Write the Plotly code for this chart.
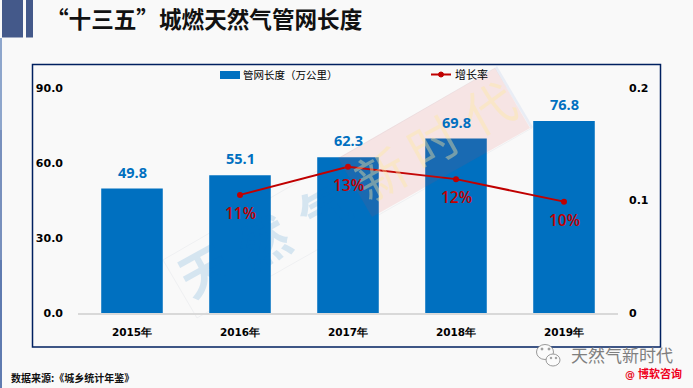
import plotly.graph_objects as go

years = ["2015年", "2016年", "2017年", "2018年", "2019年"]
length = [49.8, 55.1, 62.3, 69.8, 76.8]
rate_years = ["2016年", "2017年", "2018年", "2019年"]
rate = [0.105, 0.130, 0.119, 0.099]
rate_labels = ["11%", "13%", "12%", "10%"]
left_ticks = [0, 30, 60, 90]
left_tick_text = ["0.0", "30.0", "60.0", "90.0"]
right_ticks = [0, 0.1, 0.2]
right_tick_text = ["0", "0.1", "0.2"]

W, H = 693, 388
L, R, T, B = 78, 75, 88, 75
PW, PH = W - L - R, H - T - B
CJK = "Noto Sans CJK SC"
BLUE = "#0070c0"
RED = "#c00000"


def X(x):
    return (x - L) / PW


def Y(y):
    return (H - B - y) / PH


def rect(x0, y0, x1, y1, fill, line=None, layer="below", width=0):
    return dict(type="rect", xref="paper", yref="paper", x0=X(x0), x1=X(x1), y0=Y(y0), y1=Y(y1),
                fillcolor=fill, line=dict(color=line or fill, width=width), layer=layer)


def poly(pts, **kw):
    path = "M " + " L ".join(f"{X(a):.5f},{Y(b):.5f}" for a, b in pts) + " Z"
    return dict(type="path", xref="paper", yref="paper", path=path, **kw)


def ell(cx, cy, rx, ry, fill, line, layer="above"):
    return dict(type="circle", xref="paper", yref="paper", x0=X(cx - rx), x1=X(cx + rx),
                y0=Y(cy + ry), y1=Y(cy - ry), fillcolor=fill, line=dict(color=line, width=1), layer=layer)


def note(text, x, y, size, color, font=CJK, weight="normal", angle=0, opacity=1, anchor="left"):
    return dict(text=text, xref="paper", yref="paper", x=X(x), y=Y(y), xanchor=anchor, yanchor="middle",
                showarrow=False, textangle=angle, opacity=opacity,
                font=dict(family=font, size=size, color=color, weight=weight))


fig = go.Figure()
fig.add_trace(go.Bar(
    x=years, y=length, name="管网长度（万公里）", marker=dict(color=BLUE, line_width=0), width=0.57,
    showlegend=False,
))
fig.add_trace(go.Scatter(
    x=rate_years, y=rate, name="增长率", yaxis="y2", mode="lines+markers",
    line=dict(color=RED, width=2), marker=dict(color=RED, size=6), cliponaxis=False, showlegend=False,
))

shapes = [
    rect(0, 38, 2, 130, "#8ea6cc"),
    rect(0, 130, 2, 260, "#7890bd"),
    rect(0, 260, 2, 388, "#5f7bb0"),
    rect(2, 0, 23, 37.5, "#44598a"),
    rect(26, 0, 33, 37.5, "#44598a"),
    rect(32.5, 64.5, 660.5, 347, "rgba(0,0,0,0)", "#002060", width=1.5),
    poly([(163, 260), (495, 68), (532, 128), (197, 318)], fillcolor="rgba(0,0,0,0)",
         line=dict(color="#eff0f2", width=1), layer="below"),
    poly([(338, 158), (495, 68), (530, 128), (372, 217)], fillcolor="rgba(225,60,60,0.11)",
         line=dict(width=0), layer="above"),
    poly([(497, 66), (533, 127), (531, 129), (495, 68)], fillcolor="#e9edf5", line=dict(width=0), layer="below"),
    rect(220, 71, 240, 79, BLUE, layer="above"),
    dict(type="line", xref="paper", yref="paper", x0=X(431), x1=X(451), y0=Y(74.5), y1=Y(74.5),
         line=dict(color=RED, width=2), layer="above"),
    ell(441, 74.5, 2.5, 2.5, RED, RED),
    ell(545, 352, 8.5, 7.5, "#fbfbfb", "#9a9a9a"),
    ell(553, 360, 7, 6, "#fbfbfb", "#9a9a9a"),
    ell(542, 349, 1, 1, "#9a9a9a", "#9a9a9a"),
    ell(549, 349, 1, 1, "#9a9a9a", "#9a9a9a"),
    ell(551, 358, 0.8, 0.8, "#9a9a9a", "#9a9a9a"),
    ell(556, 358, 0.8, 0.8, "#9a9a9a", "#9a9a9a"),
]

annotations = [
    note("“十三五”城燃天然气管网长度", 44, 18, 22.6, "#111111", weight="bold"),
    note("数据来源:《城乡统计年鉴》", 9, 378, 10, "#111111", weight="bold"),
    note("管网长度（万公里）", 241, 74.5, 10.5, "#000000"),
    note("增长率", 453, 74.5, 11, "#000000"),
    note("天", 203, 268, 50, BLUE, angle=-29, opacity=0.14, anchor="center", weight="bold"),
    note("然", 263, 240, 50, BLUE, angle=-29, opacity=0.14, anchor="center", weight="bold"),
    note("气", 323, 207, 50, BLUE, angle=-29, opacity=0.14, anchor="center", weight="bold"),
    note("新", 380, 172, 50, "#ffe9a0", angle=-29, opacity=0.4, anchor="center"),
    note("时", 432, 140, 50, "#ffe9a0", angle=-29, opacity=0.4, anchor="center"),
    note("代", 488, 106, 50, "#ffe9a0", angle=-29, opacity=0.4, anchor="center"),
    note("天然气新时代", 569, 354, 17, "#7f7f7f"),
    note("@", 623, 374, 10, "#e8102a", font="DejaVu Sans", weight="bold"),
    note("博软咨询", 636, 373, 11, "#f00020", weight="bold"),
]
for yr, v in zip(years, length):
    annotations.append(dict(x=yr, y=v, xref="x", yref="y", text=f"{v:.1f}", showarrow=False, yanchor="bottom",
                            yshift=5, font=dict(family="Open Sans", size=14.5, color=BLUE, weight="bold")))
for yr, v, t in zip(rate_years, rate, rate_labels):
    annotations.append(dict(x=yr, y=v, xref="x", yref="y2", text=t, showarrow=False, yanchor="middle",
                            yshift=-18, font=dict(family="Open Sans", size=15.5, color=RED, weight=600)))

fig.update_layout(
    width=W, height=H, margin=dict(l=L, r=R, t=T, b=B),
    paper_bgcolor="#f9f9f9", plot_bgcolor="rgba(0,0,0,0)",
    font=dict(family="DejaVu Sans", size=11, color="#000000"),
    bargap=0.43, shapes=shapes, annotations=annotations,
    xaxis=dict(type="category", categoryorder="array", categoryarray=years, showgrid=False,
               showline=True, linecolor="#d9d9d9", linewidth=1.5, ticks="", ticklabelstandoff=9,
               tickfont=dict(family="DejaVu Sans", size=10.5, color="#000000", weight="bold")),
    yaxis=dict(range=[0, 90], tickvals=left_ticks, ticktext=left_tick_text, showgrid=False, zeroline=False,
               showline=False, ticks="", ticklabelstandoff=14,
               tickfont=dict(family="DejaVu Sans", size=11, color="#000000", weight="bold")),
    yaxis2=dict(range=[0, 0.2], tickvals=right_ticks, ticktext=right_tick_text, overlaying="y", side="right",
                showgrid=False, zeroline=False, showline=False, ticks="", ticklabelstandoff=10,
                tickfont=dict(family="DejaVu Sans", size=11, color="#000000", weight="bold")),
)

fig.write_html("out.html", config={"displayModeBar": False}, post_script="document.body.style.margin='0';")
